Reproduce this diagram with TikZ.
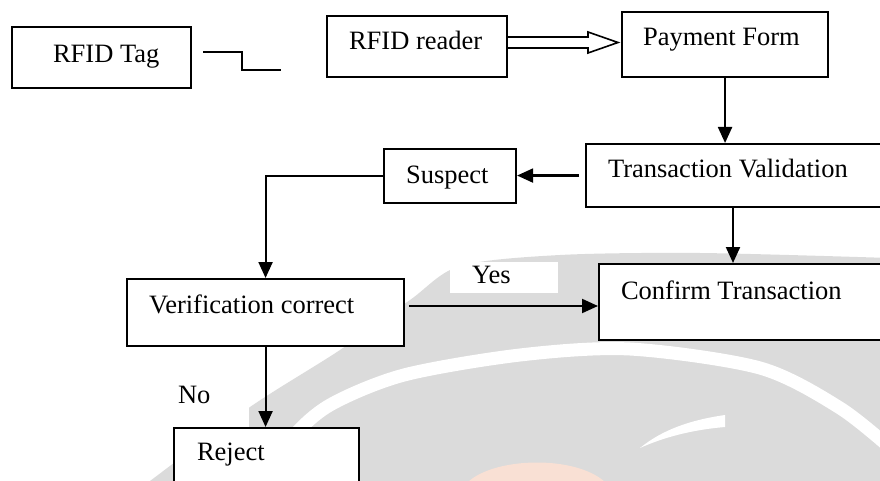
\documentclass[tikz,border=0pt]{standalone}
\usepackage{fontspec}
\setmainfont{Liberation Serif}
\usetikzlibrary{arrows.meta}
\definecolor{wmgray}{RGB}{219,219,219}
\definecolor{wmpeach}{RGB}{249,224,212}
\begin{document}
\begin{tikzpicture}[
  x=1pt, y=-1pt,
  line width=2.1pt,
  font=\fontsize{26.5}{30}\selectfont,
  box/.style={draw, fill=white, line width=2.1pt, inner sep=0pt, anchor=north west},
  lbl/.style={inner sep=0pt, anchor=base west},
  arr/.style={-{Triangle[length=16pt,width=14pt]}},
]
\useasboundingbox (0,0) rectangle (880,481);
\clip (0,0) rectangle (880,481);

% faint logo in the background
\fill[wmgray] plot[smooth] coordinates {(150,481) (250,407) (340,350) (410,300) (460,266) (560,255) (700,253) (890,258)}
  -- (890,490) -- (140,490) -- cycle;
\draw[white, line width=13pt] plot[smooth] coordinates {(258,490) (290,440) (330,405) (404,375) (520,355) (630,349) (760,368) (840,408) (895,452)};
\fill[white] (640,448) .. controls (662,430) and (690,420) .. (725,415)
  -- (725,427) .. controls (690,430) and (662,438) .. cycle;
\fill[wmpeach] (468,482) .. controls (495,457) and (575,455) .. (605,482) -- cycle;

% white patches behind the branch labels
\fill[white] (450,262) rectangle (558,293);
\fill[white] (160,369) rectangle (249,427);

% boxes
\node[box, minimum width=179pt, minimum height=61pt] (tag) at (11,26) {};
\node[box, minimum width=180pt, minimum height=61pt] (rdr) at (326,15) {};
\node[box, minimum width=206pt, minimum height=65pt] (pay) at (621,11) {};
\node[box, minimum width=300pt, minimum height=63pt] (val) at (585,143) {};
\node[box, minimum width=132pt, minimum height=54pt] (sus) at (383,148) {};
\node[box, minimum width=277pt, minimum height=67pt] (ver) at (126,278) {};
\node[box, minimum width=290pt, minimum height=76pt] (conf) at (598,263) {};
\node[box, minimum width=185pt, minimum height=70pt] (rej) at (173,427) {};

% texts
\node[lbl] (tagt) at (52,63) {RFID Tag};
\node[lbl] (rdrt) at (348,50) {RFID reader};
\node[lbl] (payt) at (642,46) {Payment Form};
\node[lbl] (valt) at (607,178) {Transaction Validation};
\node[lbl] (sust) at (405,183) {Suspect};
\node[lbl] (vert) at (148,313) {Verification correct};
\node[lbl] (conft) at (620,299) {Confirm Transaction};
\node[lbl] (yes) at (471,283) {Yes};
\node[lbl] (no) at (177,403) {No};
\node[lbl] (rejt) at (196,460) {Reject};

% connectors
\coordinate (s1) at (203,52);
\coordinate (s2) at (281,70);
\draw (s1) -- ++(39,0) |- (s2);

\draw[line width=1.6pt, line join=miter]
  (rdr.east |- 0,37) -- (588,37) -- (588,32) -- (618,42.5) -- (588,53) -- (588,48) -- (rdr.east |- 0,48);

\draw[arr] (pay.south) -- (pay.south |- val.north);
\draw[arr] ([xshift=-6pt]val.west) -- (sus.east |- val.west);
\draw[arr] (sus.west) -| (ver.north);
\coordinate (vx) at (733,0);
\draw[arr] (val.south -| vx) -- (conf.north -| vx);
\coordinate (vy) at (0,306);
\draw[arr] ([xshift=4pt]ver.east |- vy) -- (conf.west |- vy);
\draw[arr] (ver.south) -- (ver.south |- rej.north);
\end{tikzpicture}
\end{document}
